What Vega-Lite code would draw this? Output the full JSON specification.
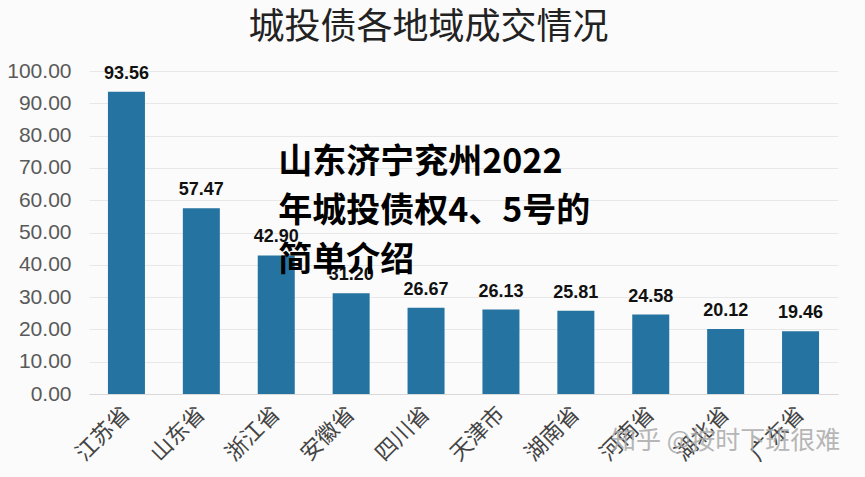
{
  "$schema": "https://vega.github.io/schema/vega-lite/v6.json",
  "width": 749,
  "height": 323,
  "autosize": {"type": "none"},
  "padding": {"left": 89, "top": 71, "right": 27, "bottom": 83},
  "background": "#fbfbfb",
  "title": {
    "text": "城投债各地域成交情况",
    "font": "Noto Sans CJK SC",
    "fontSize": 36,
    "fontWeight": "normal",
    "color": "#222222",
    "dx": -35,
    "baseline": "alphabetic",
    "offset": 33,
    "dy": 48
  },
  "datasets": {
    "bars": [
      {"region": "江苏省", "value": 93.56},
      {"region": "山东省", "value": 57.47},
      {"region": "浙江省", "value": 42.90},
      {"region": "安徽省", "value": 31.20},
      {"region": "四川省", "value": 26.67},
      {"region": "天津市", "value": 26.13},
      {"region": "湖南省", "value": 25.81},
      {"region": "河南省", "value": 24.58},
      {"region": "湖北省", "value": 20.12},
      {"region": "广东省", "value": 19.46}
    ],
    "overlay": [
      {"region": "浙江省", "value": 68.4, "text": ["山东济宁兖州2022", "年城投债权4、5号的", "简单介绍"]}
    ],
    "mark": [
      {"region": "湖北省", "value": -14.5, "text": "知乎 @按时下班很难"}
    ]
  },
  "encoding": {
    "x": {
      "field": "region", "type": "nominal", "sort": null,
      "scale": {"domain": ["江苏省", "山东省", "浙江省", "安徽省", "四川省", "天津市", "湖南省", "河南省", "湖北省", "广东省"], "paddingInner": 0.5, "paddingOuter": 0.25},
      "axis": {
        "title": null, "labelAngle": -45, "labelFont": "Noto Sans CJK SC",
        "labelFontSize": 22, "labelColor": "#444444", "ticks": false,
        "domainColor": "#d9d9d9", "labelPadding": 16, "labelAlign": "right", "labelBaseline": "middle",
        "labelOverlap": false
      }
    },
    "y": {
      "field": "value", "type": "quantitative",
      "scale": {"domain": [0, 100], "nice": false},
      "axis": {
        "title": null, "values": [0, 10, 20, 30, 40, 50, 60, 70, 80, 90, 100], "tickCount": 20,
        "format": ".2f", "labelFont": "Liberation Sans", "labelFontSize": 21,
        "labelColor": "#595959", "domain": false, "ticks": false, "labelPadding": 18,
        "gridColor": "#e8e8e8", "labelOverlap": false
      }
    }
  },
  "layer": [
    {
      "data": {"name": "bars"},
      "mark": {"type": "bar", "color": "#2573a0", "width": 37}
    },
    {
      "data": {"name": "bars"},
      "mark": {"type": "text", "font": "Liberation Sans", "fontSize": 18, "fontWeight": "bold", "color": "#111111", "dy": -13, "baseline": "alphabetic"},
      "encoding": {
        "text": {"field": "value", "type": "quantitative", "format": ".2f"}
      }
    },
    {
      "data": {"name": "overlay"},
      "mark": {"type": "text", "font": "Noto Sans CJK SC", "fontSize": 34, "fontWeight": "bold", "color": "#000000", "align": "left", "baseline": "alphabetic", "lineHeight": 49, "dx": 2},
      "encoding": {
        "text": {"field": "text"}
      }
    },
    {
      "data": {"name": "mark"},
      "mark": {"type": "text", "font": "Noto Sans CJK SC", "fontSize": 25, "color": "#aaaaaa", "opacity": 0.85, "baseline": "middle", "clip": false},
      "encoding": {
        "text": {"field": "text"}
      }
    }
  ],
  "config": {"view": {"stroke": null}}
}
